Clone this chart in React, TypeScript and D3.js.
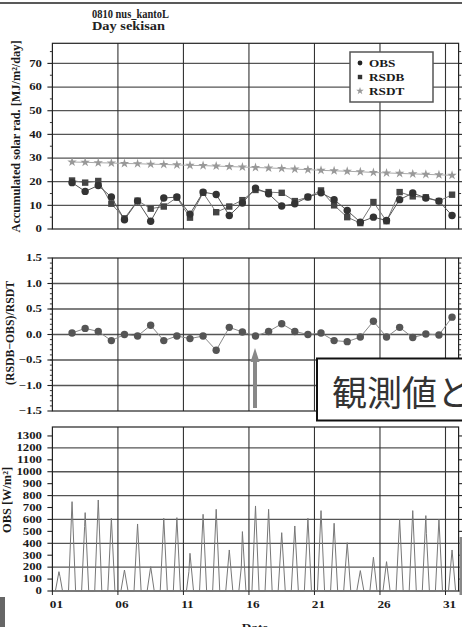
import React from 'react';
import * as d3 from 'd3';

// daily values, days 02..31 (plotted at noon of each day)
const dailyDays = [2, 3, 4, 5, 6, 7, 8, 9, 10, 11, 12, 13, 14, 15, 16, 17, 18, 19, 20, 21, 22, 23, 24, 25, 26, 27, 28, 29, 30, 31];
const obsDaily = [19.6, 15.9, 18.4, 13.5, 3.9, 11.8, 3.3, 13.1, 13.5, 6.3, 15.6, 14.6, 5.7, 11.0, 17.3, 14.9, 9.7, 10.7, 13.5, 15.3, 12.4, 7.8, 2.9, 5.0, 3.6, 12.4, 15.2, 13.1, 11.8, 5.7];
const rsdbDaily = [20.5, 19.6, 20.3, 10.7, 4.5, 12.0, 8.6, 9.5, 13.3, 4.8, 15.3, 7.1, 9.5, 12.2, 16.5, 15.6, 15.3, 11.8, 13.5, 16.3, 10.0, 5.0, 2.5, 11.4, 3.3, 15.6, 13.8, 13.4, 11.8, 14.5];
const rsdtDaily = [28.3, 28.2, 28.0, 27.9, 27.7, 27.6, 27.4, 27.3, 27.1, 26.9, 26.8, 26.6, 26.4, 26.2, 26.0, 25.8, 25.6, 25.3, 25.1, 24.8, 24.6, 24.4, 24.2, 23.9, 23.7, 23.5, 23.3, 23.1, 22.9, 22.7];
const ratioDaily = [0.03, 0.12, 0.06, -0.12, 0.0, -0.03, 0.18, -0.12, -0.03, -0.08, -0.03, -0.31, 0.14, 0.05, -0.03, 0.06, 0.21, 0.06, 0.0, 0.03, -0.12, -0.14, -0.05, 0.26, -0.05, 0.14, -0.06, 0.01, -0.01, 0.34];

// hourly OBS: daily peak (W/m2) around noon, zero at night
const hourlyDays = [1, 2, 3, 4, 5, 6, 7, 8, 9, 10, 11, 12, 13, 14, 15, 16, 17, 18, 19, 20, 21, 22, 23, 24, 25, 26, 27, 28, 29, 30, 31];
const obsHourlyPeak = [162, 749, 657, 763, 610, 176, 562, 204, 610, 615, 316, 643, 685, 344, 498, 713, 685, 489, 545, 610, 674, 568, 405, 171, 283, 246, 601, 674, 632, 601, 344];
const obsHourlyShoulders = [
  { day: 1, hour: 14, value: 120 },
  { day: 3, hour: 11, value: 540 },
  { day: 9, hour: 11, value: 512 },
  { day: 11, hour: 10, value: 162 },
  { day: 15, hour: 10, value: 200 },
  { day: 29, hour: 13, value: 484 },
];

const dateTicks = [1, 6, 11, 16, 21, 26, 31];
const dateTickLabels = ['01', '06', '11', '16', '21', '26', '31'];
const legendLabels = ['OBS', 'RSDB', 'RSDT'];

const serif = '"Liberation Serif", "DejaVu Serif", serif';

const x = d3.scaleLinear().domain([1, 32]).range([52.4, 458.6]);
const yTop = d3.scaleLinear().domain([0, 78.5]).range([229, 43.3]);
const yMid = d3.scaleLinear().domain([-1.5, 1.5]).range([411, 258]);
const yBot = d3.scaleLinear().domain([0, 1375]).range([591, 427]);

const noon = (d) => x(d + 0.5);

// wide bold serif text (the original chart was stretched sideways)
const SText = ({ x, y, anchor = 'start', size = 9.5, sx = 1.35, children, fill = '#1a1a1a' }) => (
  <text transform={`translate(${x},${y}) scale(${sx},1)`} textAnchor={anchor}
    fontFamily={serif} fontWeight="bold" fontSize={size} fill={fill}>{children}</text>
);

const Panel = ({ y, grid, majors, minors, fmt }) => {
  const [yb, yt] = y.range();
  const [x0, x1] = x.range();
  return (
    <g>
      {grid.map((v) => (
        <line key={'g' + v} x1={x0} x2={x1} y1={y(v)} y2={y(v)} stroke="#555" strokeWidth={1.3} />
      ))}
      {dateTicks.slice(1).map((d) => (
        <line key={'v' + d} x1={x(d)} x2={x(d)} y1={yt} y2={yb} stroke="#333" strokeWidth={1.1} />
      ))}
      <rect x={x0} y={yt} width={x1 - x0} height={yb - yt} fill="none" stroke="#222" strokeWidth={1.2} />
      {minors.map((v) => (
        <g key={'m' + v}>
          <line x1={x0 - 2.5} x2={x0} y1={y(v)} y2={y(v)} stroke="#333" />
          <line x1={x1} x2={x1 + 2.5} y1={y(v)} y2={y(v)} stroke="#333" />
        </g>
      ))}
      {majors.map((v) => (
        <g key={'t' + v}>
          <line x1={x0 - 5} x2={x0} y1={y(v)} y2={y(v)} stroke="#222" strokeWidth={1.1} />
          <line x1={x1} x2={x1 + 5} y1={y(v)} y2={y(v)} stroke="#222" strokeWidth={1.1} />
          <SText x={42} y={y(v) + 3.3} anchor="end">{fmt(v)}</SText>
        </g>
      ))}
    </g>
  );
};

const fmtMid = (v) => (v < 0 ? '\u2212' : '') + Math.abs(v).toFixed(1);

export default function App() {
  const lineTop = d3.line().x((d) => noon(d[0])).y((d) => yTop(d[1]));
  const lineMid = d3.line().x((d) => noon(d[0])).y((d) => yMid(d[1]));
  const star = d3.symbol().type(d3.symbolStar).size(28);

  // hourly knots: zero at sunrise/sunset, peak at noon
  const hourly = [];
  hourlyDays.forEach((d, i) => {
    const sh = obsHourlyShoulders.find((s) => s.day === d);
    const knots = [[5.5, 0], [12, obsHourlyPeak[i]], [18.5, 0]];
    if (sh) knots.push([sh.hour, sh.value]);
    knots.sort((a, b) => a[0] - b[0]);
    knots.forEach((k) => hourly.push([d + k[0] / 24, k[1]]));
  });
  const lineBot = d3.line().x((d) => x(d[0])).y((d) => yBot(d[1]));

  const obsPts = dailyDays.map((d, i) => [d, obsDaily[i]]);
  const rsdbPts = dailyDays.map((d, i) => [d, rsdbDaily[i]]);
  const rsdtPts = dailyDays.map((d, i) => [d, rsdtDaily[i]]);
  const ratioPts = dailyDays.map((d, i) => [d, ratioDaily[i]]);

  return (
    <svg width={462} height={627} style={{ position: 'absolute', left: 0, top: 0, background: '#fff' }}>
      <rect width={462} height={627} fill="#fff" />
      <line x1={0} x2={462} y1={3} y2={3} stroke="#222" strokeWidth={1.5} />

      <text x={92} y={18} fontFamily={serif} fontWeight="bold" fontSize={11.5} fill="#222"
        textLength={77} lengthAdjust="spacingAndGlyphs">0810 nus_kantoL</text>
      <text x={92} y={30} fontFamily={serif} fontWeight="bold" fontSize={11.5} fill="#222"
        textLength={73} lengthAdjust="spacingAndGlyphs">Day sekisan</text>

      {/* top panel */}
      <Panel y={yTop} grid={d3.range(10, 71, 10)} majors={d3.range(0, 71, 10)}
        minors={d3.range(5, 76, 10)} fmt={(v) => String(v)} />
      <path d={lineTop(rsdtPts)} fill="none" stroke="#aaa" strokeWidth={1} />
      {rsdtPts.map((p) => (
        <path key={'s' + p[0]} d={star()} transform={`translate(${noon(p[0])},${yTop(p[1])})`} fill="#999" />
      ))}
      <path d={lineTop(rsdbPts)} fill="none" stroke="#777" strokeWidth={1} />
      {rsdbPts.map((p) => (
        <rect key={'r' + p[0]} x={noon(p[0]) - 3.2} y={yTop(p[1]) - 3.2} width={6.4} height={6.4} fill="#444" />
      ))}
      <path d={lineTop(obsPts)} fill="none" stroke="#555" strokeWidth={1} />
      {obsPts.map((p) => (
        <circle key={'o' + p[0]} cx={noon(p[0])} cy={yTop(p[1])} r={3.7} fill="#333" />
      ))}

      <g>
        <rect x={350} y={52} width={83} height={50} fill="#fff" stroke="#555" strokeWidth={1.5} />
        <circle cx={360} cy={63} r={2.4} fill="#222" />
        <rect x={357.8} y={74.8} width={4.4} height={4.4} fill="#333" />
        <path d={d3.symbol().type(d3.symbolStar).size(18)()} transform="translate(360,91)" fill="#999" />
        {legendLabels.map((t, i) => (
          <SText key={t} x={369} y={66.5 + i * 14} size={9.8}>{t}</SText>
        ))}
      </g>

      <text transform="translate(20,136.5) rotate(-90) scale(1,1.3)" textAnchor="middle"
        fontFamily={serif} fontWeight="bold" fontSize={9.5} fill="#1a1a1a"
        textLength={192} lengthAdjust="spacingAndGlyphs">Accumulated solar rad. [MJ/m²/day]</text>

      {/* middle panel */}
      <Panel y={yMid} grid={[-1, -0.5, 0, 0.5, 1]} majors={[-1.5, -1, -0.5, 0, 0.5, 1, 1.5]}
        minors={d3.range(-14, 15).map((v) => v / 10)} fmt={fmtMid} />
      <path d={lineMid(ratioPts)} fill="none" stroke="#888" strokeWidth={1} />
      {ratioPts.map((p) => (
        <circle key={'q' + p[0]} cx={noon(p[0])} cy={yMid(p[1])} r={3.7} fill="#555" />
      ))}
      <text transform="translate(14,333) rotate(-90) scale(1,1.3)" textAnchor="middle"
        fontFamily={serif} fontWeight="bold" fontSize={9.5} fill="#1a1a1a"
        textLength={104} lengthAdjust="spacingAndGlyphs">(RSDB−OBS)/RSDT</text>

      {/* bottom panel */}
      <Panel y={yBot} grid={d3.range(200, 1201, 200)} majors={d3.range(0, 1301, 100)}
        minors={[]} fmt={(v) => String(v)} />
      <path d={lineBot(hourly)} fill="none" stroke="#777" strokeWidth={1} />
      {dateTicks.map((d, i) => (
        <g key={'x' + d}>
          <line x1={x(d)} x2={x(d)} y1={591} y2={595} stroke="#222" />
          <SText x={x(d) + 4} y={607.5} anchor="middle" size={9.8}>{dateTickLabels[i]}</SText>
        </g>
      ))}
      <text transform="translate(11,500) rotate(-90) scale(1,1.3)" textAnchor="middle"
        fontFamily={serif} fontWeight="bold" fontSize={9.5} fill="#1a1a1a"
        textLength={66} lengthAdjust="spacingAndGlyphs">OBS [W/m²]</text>
      <SText x={255} y={631} anchor="middle" size={11} sx={1.2}>Date</SText>

      {/* slide overlays */}
      <rect x={0} y={597} width={5} height={30} fill="#666" />
      <rect x={459.5} y={537} width={3} height={58} fill="#888" />
      <path d="M253,408 L253,362 L250.5,362 L255,348 L259.5,362 L257,362 L257,408 Z" fill="#888" />
      <rect x={317} y={358.5} width={160} height={62} fill="#fff" stroke="#111" strokeWidth={2} />
      <text x={332} y={406} fontFamily='"Noto Sans CJK JP", sans-serif' fontSize={35} fill="#333">観測値と</text>
    </svg>
  );
}
